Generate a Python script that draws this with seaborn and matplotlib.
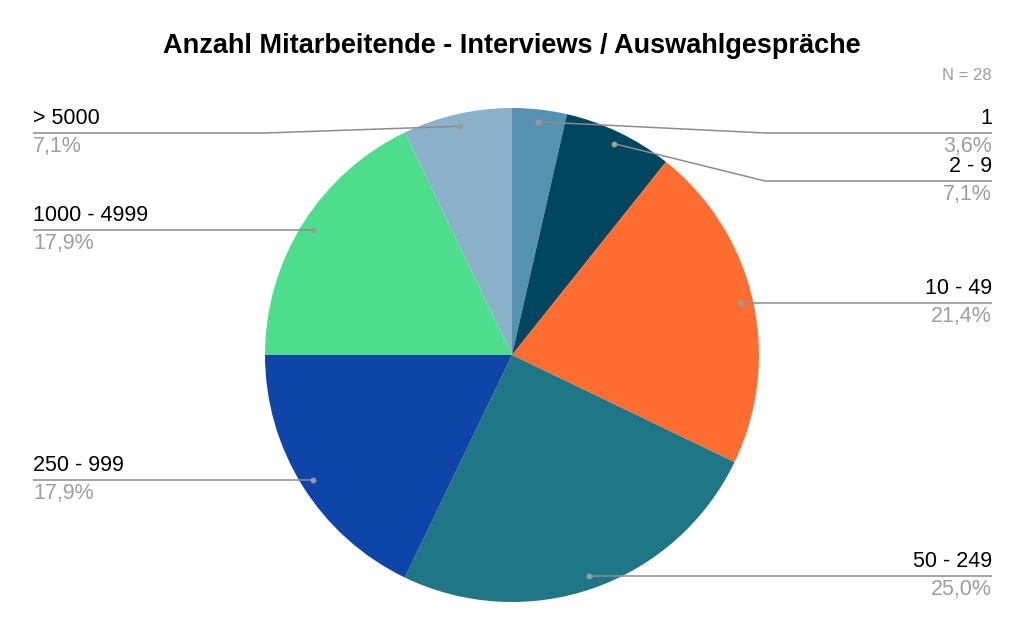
import numpy as np
import matplotlib
matplotlib.use("Agg")
import matplotlib.pyplot as plt
import seaborn as sns

# Data
categories = ["1", "2 - 9", "10 - 49", "50 - 249", "250 - 999", "1000 - 4999", "> 5000"]
counts = [1, 2, 6, 7, 5, 5, 2]
colors = ["#5591b0", "#00465f", "#ff6d31", "#1f7684", "#0f44a8", "#4ddd8c", "#8ab1c8"]
title = "Anzahl Mitarbeitende - Interviews / Auswahlgespräche"
n_text = "N = 28"

sns.set_theme(style="white")
plt.rcParams['font.family'] = ['Liberation Sans', 'DejaVu Sans']

W, H = 1024, 634
fig = plt.figure(figsize=(W / 100, H / 100), dpi=100)

# pie axes placed in pixel units
cx, cy, R = 512, 355, 247
ax = fig.add_axes([(cx - R) / W, (H - cy - R) / H, 2 * R / W, 2 * R / H])
wedges, _ = ax.pie(counts, colors=colors, startangle=90, counterclock=False,
                   radius=1.0, wedgeprops=dict(linewidth=0))
ax.set_xlim(-1, 1)
ax.set_ylim(-1, 1)
ax.set_aspect("equal")
ax.axis("off")

# overlay axes in pixel coordinates (y down) for labels
lay = fig.add_axes([0, 0, 1, 1])
lay.set_xlim(0, W)
lay.set_ylim(H, 0)
lay.axis("off")

total = sum(counts)
pct = [f"{c / total * 100:.1f}%".replace(".", ",") for c in counts]

# label line heights and side (layout only)
label_y = [133, 181, 302, 576, 481, 231, 133]
side = ["r", "r", "r", "r", "l", "l", "l"]
elbow_x = {"r": 765, "l": 265}

line_col = "#8c8c8c"
fs = 15.5
cum = 0
for i, c in enumerate(counts):
    mid = (cum + c / 2) / total * 2 * np.pi
    cum += c
    # dot at 0.95 radius of the wedge middle
    dx = cx + 0.95 * R * np.sin(mid)
    dy = cy - 0.95 * R * np.cos(mid)
    ly = label_y[i]
    if abs(dy - ly) < 4:
        ly = dy  # straight leader, no kink
    if side[i] == "r":
        ex = max(elbow_x["r"], dx)
        lay.plot([dx, ex, 992], [dy, ly, ly], color=line_col, lw=1.1, solid_capstyle="butt")
        lay.text(992, ly - 4, categories[i], ha="right", va="bottom", fontsize=fs, color="black")
        lay.text(992, ly + 3, pct[i], ha="right", va="top", fontsize=fs, color="#9e9e9e")
    else:
        ex = min(elbow_x["l"], dx)
        lay.plot([33, ex, dx], [ly, ly, dy], color=line_col, lw=1.1, solid_capstyle="butt")
        lay.text(33, ly - 4, categories[i], ha="left", va="bottom", fontsize=fs, color="black")
        lay.text(33, ly + 3, pct[i], ha="left", va="top", fontsize=fs, color="#9e9e9e")
    lay.scatter([dx], [dy], s=18, color="#9a9a9a", zorder=5, linewidths=0)

lay.text(512, 46, title, ha="center", va="center", fontsize=19.5, fontweight="bold", color="black")
lay.text(992, 76, n_text, ha="right", va="center", fontsize=12, color="#9e9e9e")

fig.savefig("out.png", dpi=100, facecolor="white")
